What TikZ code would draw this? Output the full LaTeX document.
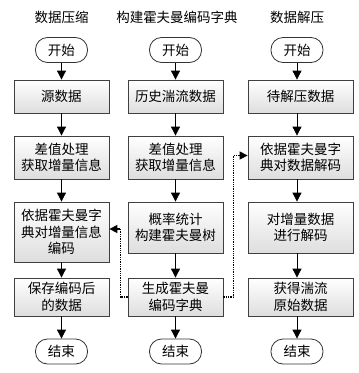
\documentclass[tikz,border=0pt]{standalone}
\usepackage{fontspec}
\setmainfont{Noto Sans CJK SC}
\usetikzlibrary{arrows.meta}
\begin{document}
\begin{tikzpicture}[x=1pt,y=-1pt,
  every node/.style={font=\fontsize{13.5}{16.5}\selectfont},
  box/.style={draw=black!75, line width=0.8pt, top color=white, bottom color=black!13, align=center, inner sep=0pt, minimum width=95pt},
  term/.style={draw=black!80, line width=0.8pt, rounded corners=12pt, minimum width=52pt, minimum height=25pt, inner sep=0pt, fill=white},
  arr/.style={-{Triangle[length=9pt,width=9pt]}, line width=0.8pt},
  dotarr/.style={-{Triangle[length=8pt,width=8pt]}, line width=1.3pt, densely dotted}
]
\useasboundingbox (0,0) rectangle (359,373);
% titles
\node (t1) at (61.5,17) {数据压缩};
\node (t2) at (177,17) {构建霍夫曼编码字典};
\node (t3) at (297,17) {数据解压};
% column 1
\node[term] (s1) at (61.5,50) {开始};
\node[box, minimum height=33pt] (a1) at (61.5,96.5) {源数据};
\node[box, minimum height=43pt] (a2) at (61.5,157.5) {差值处理\\获取增量信息};
\node[box, minimum height=60pt] (a3) at (61.5,232) {依据霍夫曼字\\典对增量信息\\编码};
\node[box, minimum height=38pt] (a4) at (61.5,297) {保存编码后\\的数据};
\node[term] (e1) at (61.5,351.5) {结束};
% column 2
\node[term] (s2) at (175.5,50) {开始};
\node[box, minimum height=33pt] (b1) at (175.5,96.5) {历史湍流数据};
\node[box, minimum height=43pt] (b2) at (175.5,157.5) {差值处理\\获取增量信息};
\node[box, minimum height=51pt] (b3) at (175.5,227.5) {概率统计\\构建霍夫曼树};
\node[box, minimum height=38pt] (b4) at (175.5,297) {生成霍夫曼\\编码字典};
\node[term] (e2) at (175.5,351.5) {结束};
% column 3
\node[term] (s3) at (297,50) {开始};
\node[box, minimum width=105pt, minimum height=33pt] (c1) at (300.5,96.5) {待解压数据};
\node[box, minimum width=105pt, minimum height=43pt] (c2) at (300.5,157.5) {依据霍夫曼字\\典对数据解码};
\node[box, minimum width=105pt, minimum height=51pt] (c3) at (300.5,227.5) {对增量数据\\进行解码};
\node[box, minimum width=105pt, minimum height=38pt] (c4) at (300.5,297) {获得湍流\\原始数据};
\node[term] (e3) at (297,351.5) {结束};
% arrows column 1
\draw[arr] (s1) -- (a1);
\draw[arr] (a1) -- (a2);
\draw[arr] (a2) -- (a3);
\draw[arr] (a3) -- (a4);
\draw[arr] (a4) -- (e1);
% arrows column 2
\draw[arr] (s2) -- (b1);
\draw[arr] (b1) -- (b2);
\draw[arr] (b2) -- (b3);
\draw[arr] (b3) -- (b4);
\draw[arr] (b4) -- (e2);
% arrows column 3
\draw[arr] (s3) -- (s3 |- c1.north);
\draw[arr] (c1.south -| s3) -- (c2.north -| s3);
\draw[arr] (c2.south -| s3) -- (c3.north -| s3);
\draw[arr] (c3.south -| s3) -- (c4.north -| s3);
\draw[arr] (c4.south -| s3) -- (e3);
% dotted connectors
\draw[dotarr] (b4.west) -- ++(-7,0) |- ([yshift=3pt]a3.east);
\draw[dotarr] (b4.east) -- ++(10,0) |- ([yshift=2pt]c2.west);
\end{tikzpicture}
\end{document}
